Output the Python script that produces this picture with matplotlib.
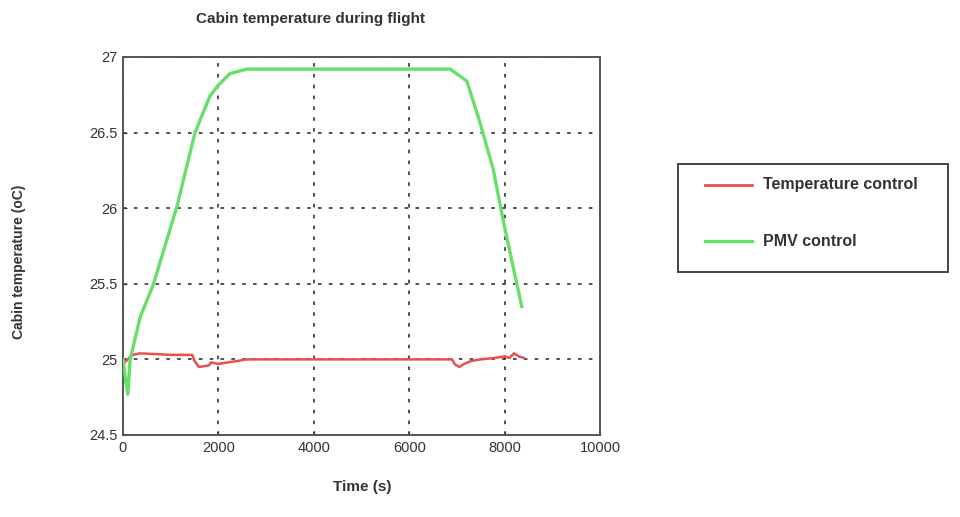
import matplotlib
matplotlib.use("Agg")
import matplotlib.pyplot as plt
from matplotlib.lines import Line2D
from matplotlib.patches import Rectangle

# Data
t_pmv = [0, 60, 100, 150, 360, 630, 1130, 1510, 1820, 1990, 2240, 2600, 4000, 6000, 6860, 7210, 7480, 7760, 7970, 8180, 8360]
v_pmv = [25.0, 24.85, 24.77, 25.0, 25.28, 25.49, 26.01, 26.50, 26.74, 26.81, 26.89, 26.92, 26.92, 26.92, 26.92, 26.84, 26.57, 26.26, 25.92, 25.61, 25.35]

t_temp = [0, 100, 200, 360, 1000, 1450, 1500, 1590, 1800, 1850, 2000, 2200, 2400, 2600, 4000, 6000, 6900, 6950, 7050, 7150, 7300, 7500, 7800, 8000, 8100, 8200, 8300, 8400]
v_temp = [24.97, 25.0, 25.03, 25.04, 25.03, 25.03, 24.99, 24.95, 24.96, 24.98, 24.97, 24.98, 24.99, 25.0, 25.0, 25.0, 25.0, 24.97, 24.95, 24.97, 24.99, 25.0, 25.01, 25.02, 25.01, 25.04, 25.02, 25.01]

x_ticks = [0, 2000, 4000, 6000, 8000, 10000]
y_ticks = [24.5, 25, 25.5, 26, 26.5, 27]
y_ticklabels = ["24.5", "25", "25.5", "26", "26.5", "27"]

title = "Cabin temperature during flight"
xlabel = "Time (s)"
ylabel = "Cabin temperature (oC)"
labels = ["Temperature control", "PMV control"]

red = "#e85050"
green = "#66e066"
txt = "#333333"
FONT = "Liberation Sans"

W, H = 960, 517
fig = plt.figure(figsize=(9.6, 5.17), dpi=100)
ax = fig.add_axes([123 / W, 1 - 435 / H, (600 - 123) / W, (435 - 57) / H])

ax.plot(t_temp, v_temp, color=red, lw=1.8, zorder=3)
ax.plot(t_pmv, v_pmv, color=green, lw=2.4, zorder=3)

ax.set_xlim(0, 10000)
ax.set_ylim(24.5, 27)
ax.set_xticks(x_ticks)
ax.set_xticklabels([str(x) for x in x_ticks], fontfamily=FONT)
ax.set_yticks(y_ticks)
ax.set_yticklabels(y_ticklabels, fontfamily=FONT)
ax.tick_params(direction="in", length=3, labelsize=10.5, colors=txt, pad=4)
ax.grid(True, color="#222222", linestyle=(0, (2, 4)), linewidth=1.3, alpha=0.85)
for s in ax.spines.values():
    s.set_color("#555555")
    s.set_linewidth(1.4)

fig.text(310 / W, 1 - 19 / H, title, ha="center", va="center", fontsize=11,
         fontweight="bold", color=txt, family=FONT)
fig.text(362 / W, 1 - 487 / H, xlabel, ha="center", va="center", fontsize=11,
         fontweight="bold", color=txt, family=FONT)
fig.text(19 / W, 1 - 262 / H, ylabel, ha="center", va="center", rotation=90, fontsize=10,
         fontweight="bold", color=txt, family=FONT)

# Legend box (drawn manually to match the reference geometry)
box = Rectangle((678 / W, 1 - 272 / H), (948 - 678) / W, (272 - 164) / H,
                transform=fig.transFigure, facecolor="white", edgecolor="#444444", lw=1.4)
fig.patches.append(box)
for label, col, lw, yp in [(labels[0], red, 2.0, 185), (labels[1], green, 2.4, 241)]:
    fig.add_artist(Line2D([705 / W, 752 / W], [1 - yp / H, 1 - yp / H], color=col, lw=lw,
                          transform=fig.transFigure))
    fig.text(763 / W, 1 - yp / H, label, ha="left", va="center", fontsize=11.5,
             fontweight="bold", color=txt, family=FONT)

fig.savefig("out.png", dpi=100)
